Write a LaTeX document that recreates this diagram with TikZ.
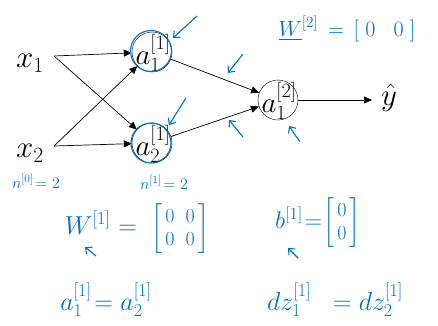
\documentclass[tikz,border=0pt]{standalone}
\usepackage{fix-cm}
\usepackage{amsmath}
\usetikzlibrary{arrows.meta}
\definecolor{pen}{RGB}{0,112,192}
\begin{document}
\begin{tikzpicture}[x=1pt,y=-1pt,
  neuron/.style={draw,circle,minimum size=40pt,inner sep=0pt},
  nlbl/.style={inner sep=0pt,font=\fontsize{29}{32}\selectfont},
  inlbl/.style={inner sep=0pt,font=\fontsize{31}{34}\selectfont},
  conn/.style={-{Triangle[length=8pt,width=7pt]},line width=0.7pt},
  hand/.style={text=pen,inner sep=0pt},
  handarrow/.style={draw=pen,line width=1.1pt,-{Straight Barb[length=5pt,width=9pt]}},
  handcircle/.style={draw=pen,line width=1.1pt}]
\useasboundingbox (0,0) rectangle (438,325);
% main nodes
\node[inlbl] (x1) at (30,63) {$x_1$};
\node[inlbl] (x2) at (30,153) {$x_2$};
\coordinate (x1o) at (54,56);
\coordinate (x2o) at (54,146);
\node[neuron,label={[nlbl,xshift=1pt,yshift=-1pt]center:$a_1^{[1]}$}] (a11) at (152,52) {};
\node[neuron,label={[nlbl,xshift=1pt,yshift=-1pt]center:$a_2^{[1]}$}] (a21) at (152,143) {};
\node[neuron,label={[nlbl,xshift=1pt,yshift=-1pt]center:$a_1^{[2]}$}] (a12) at (278,100) {};
\node[inlbl] (yh) at (389,98) {$\hat{y}$};
\coordinate (yin) at (372,100);
% connectors
\draw[conn] (x1o) -- (a11);
\draw[conn] (x1o) -- (a21);
\draw[conn] (x2o) -- (a11);
\draw[conn] (x2o) -- (a21);
\draw[conn] (a11) -- (a12);
\draw[conn] (a21) -- (a12);
\draw[conn] (a12) -- (yin);
% handwritten annotations
\draw[handcircle] (151,51) circle (20.5pt);
\draw[handcircle] (151,143) circle (20pt);
\coordinate (h1s) at (197,16); \coordinate (h1e) at (173,38);
\coordinate (h2s) at (186,98); \coordinate (h2e) at (169,125);
\coordinate (h3s) at (243,54); \coordinate (h3e) at (228,73);
\coordinate (h4s) at (243,137); \coordinate (h4e) at (229,120);
\coordinate (h5s) at (300,142); \coordinate (h5e) at (289,126);
\coordinate (h6s) at (96,256); \coordinate (h6e) at (85,247);
\coordinate (h7s) at (298,258); \coordinate (h7e) at (288,248);
\draw[handarrow] (h1s) -- (h1e);
\draw[handarrow] (h2s) -- (h2e);
\draw[handarrow] (h3s) -- (h3e);
\draw[handarrow] (h4s) -- (h4e);
\draw[handarrow] (h5s) -- (h5e);
\draw[handarrow] (h6s) -- (h6e);
\draw[handarrow] (h7s) -- (h7e);
\node[hand,font=\fontsize{22}{26}\selectfont] (w2) at (347,29) {$\underline{W}^{[2]}\,=\,[\;0\;\;\;0\;]$};
\node[hand,font=\fontsize{16}{18}\selectfont] (n0) at (36,181) {$n^{[0]}\!=2$};
\node[hand,font=\fontsize{16}{18}\selectfont] (n1) at (164,182) {$n^{[1]}\!=2$};
\node[hand,font=\fontsize{26}{30}\selectfont] (w1) at (137,229) {$W^{[1]}$\hspace{8pt}$=$\hspace{14pt}{\fontsize{20}{23}\selectfont$\left[\,\begin{array}{@{}c@{\hspace{11pt}}c@{}}0&0\\0&0\end{array}\,\right]$}};
\node[hand,font=\fontsize{24}{28}\selectfont] (b1) at (318,223) {$b^{[1]}$\hspace{2pt}$=$\hspace{1pt}{\fontsize{20}{23}\selectfont$\left[\,\begin{array}{@{}c@{}}0\\0\end{array}\,\right]$}};
\node[hand,font=\fontsize{26}{30}\selectfont] (eqa) at (106,300) {$a_1^{[1]}\!=a_2^{[1]}$};
\node[hand,font=\fontsize{26}{30}\selectfont] (eqdz) at (335,300) {$dz_1^{[1]}\;\;=dz_2^{[1]}$};
\end{tikzpicture}
\end{document}
